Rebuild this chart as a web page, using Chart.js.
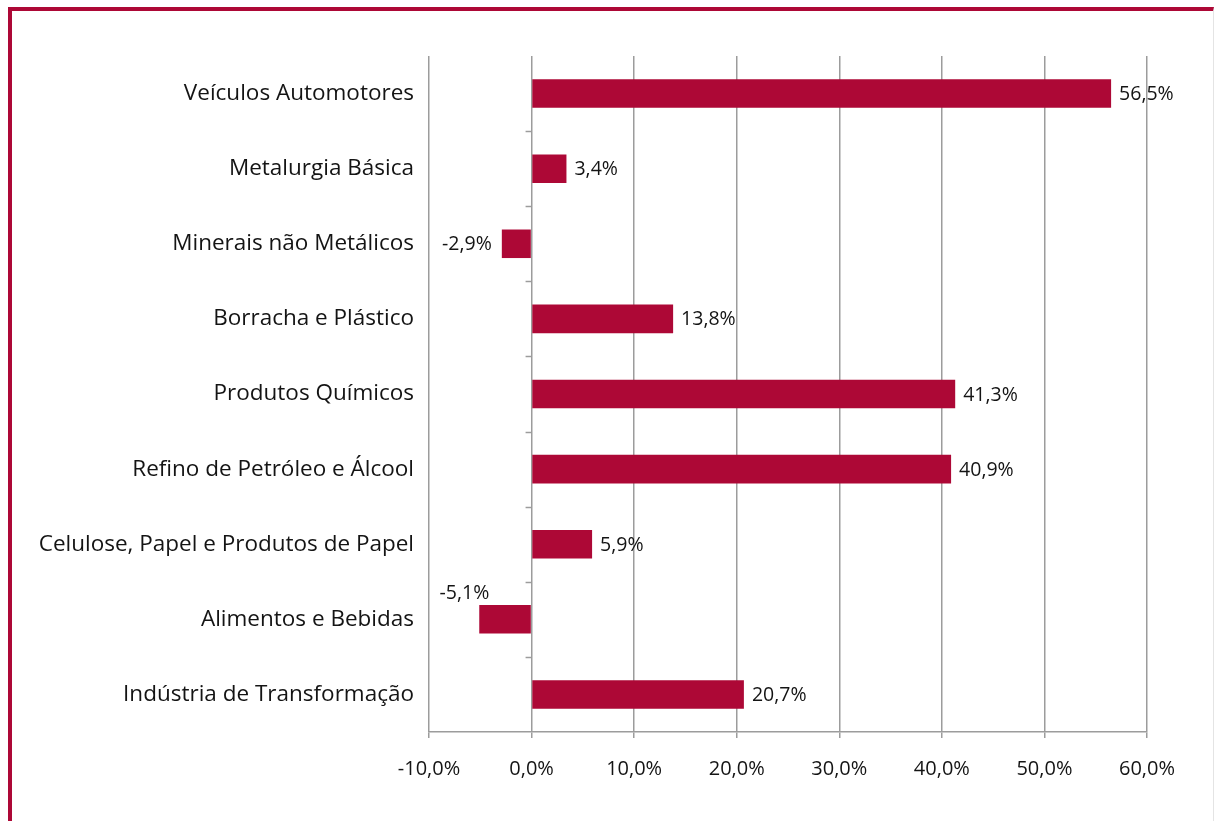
<!DOCTYPE html>
<html>
<head>
<meta charset="utf-8">
<script src="https://cdn.jsdelivr.net/npm/chart.js@4"></script>
<style>
  html, body { margin: 0; padding: 0; background: #fff; }
  #frame {
    position: absolute; left: 8px; top: 7px; right: 0; bottom: 0;
    border-top: 4px solid #ad0836; border-left: 4px solid #ad0836;
    border-right: 1px solid #e4e4e4;
  }
  #wrap { position: absolute; left: 0; top: 0; width: 1214px; height: 821px; }
</style>
</head>
<body>
<div id="frame"></div>
<div id="wrap"><canvas id="myChart" width="1214" height="821"></canvas></div>
<script>
var categories = [
    'Veículos Automotores',
    'Metalurgia Básica',
    'Minerais não Metálicos',
    'Borracha e Plástico',
    'Produtos Químicos',
    'Refino de Petróleo e Álcool',
    'Celulose, Papel e Produtos de Papel',
    'Alimentos e Bebidas',
    'Indústria de Transformação'
];
var values = [56.5, 3.4, -2.9, 13.8, 41.3, 40.9, 5.9, -5.1, 20.7];
var tickValues = [-10, 0, 10, 20, 30, 40, 50, 60];

// where each value label sits: beside the bar end, or lifted above it
var labelSpots = ['end', 'end', 'end', 'end', 'end', 'end', 'end', 'above', 'end'];

var red = '#ad0836';
var gridGray = '#9c9c9c';
var textColor = '#141414';
var font = '"Open Sans", sans-serif';

function pct(v) {
    return v.toFixed(1).replace('.', ',') + '%';
}

// category axis drawn at zero, with short marks between the categories
var zeroAxis = {
    id: 'zeroAxis',
    afterDatasetsDraw: function (chart) {
        var c = chart.ctx, x = chart.scales.x, y = chart.scales.y;
        var x0 = x.getPixelForValue(0);
        var step = (y.bottom - y.top) / categories.length;
        c.save();
        c.strokeStyle = gridGray;
        c.lineWidth = 1.5;
        for (var i = 1; i < categories.length; i++) {
            var yy = Math.round(y.top + step * i) + 0.5;
            c.beginPath();
            c.moveTo(x0 - 6, yy);
            c.lineTo(x0, yy);
            c.stroke();
        }
        c.restore();
    }
};

var valueLabels = {
    id: 'valueLabels',
    afterDatasetsDraw: function (chart) {
        var c = chart.ctx;
        var meta = chart.getDatasetMeta(0);
        c.save();
        c.font = '19.5px ' + font;
        c.fillStyle = textColor;
        meta.data.forEach(function (bar, i) {
            var v = values[i];
            var txt = pct(v);
            if (labelSpots[i] === 'above') {
                c.textAlign = 'right';
                c.textBaseline = 'bottom';
                c.fillText(txt, bar.x + 10, bar.y - bar.height / 2 - 2);
            } else if (v >= 0) {
                c.textAlign = 'left';
                c.textBaseline = 'middle';
                c.fillText(txt, bar.x + 8, bar.y + 1);
            } else {
                c.textAlign = 'right';
                c.textBaseline = 'middle';
                c.fillText(txt, bar.x - 10, bar.y + 1);
            }
        });
        c.restore();
    }
};

var ctx = document.getElementById('myChart').getContext('2d');
var myChart = new Chart(ctx, {
    type: 'bar',
    data: {
        labels: categories,
        datasets: [{
            data: values,
            backgroundColor: red,
            borderWidth: 0,
            barPercentage: 0.38,
            categoryPercentage: 1
        }]
    },
    options: {
        indexAxis: 'y',
        responsive: false,
        animation: false,
        layout: { padding: { top: 56, right: 67, left: 0, bottom: 0 } },
        plugins: { legend: { display: false }, tooltip: { enabled: false } },
        scales: {
            x: {
                min: -10,
                max: 60,
                afterBuildTicks: function (scale) {
                    scale.ticks = tickValues.map(function (v) { return { value: v }; });
                },
                afterFit: function (scale) { scale.height = 89; },
                grid: {
                    color: gridGray,
                    lineWidth: 1.5,
                    tickLength: 6,
                    drawTicks: true
                },
                border: { color: gridGray, width: 1.5 },
                ticks: {
                    padding: 19,
                    color: textColor,
                    font: { family: font, size: 20 },
                    callback: function (v) { return pct(v); }
                }
            },
            y: {
                afterFit: function (scale) { scale.width = 429; },
                grid: { display: false, drawTicks: false },
                border: { display: false },
                ticks: {
                    padding: 15,
                    color: textColor,
                    font: { family: font, size: 22.5 }
                }
            }
        }
    },
    plugins: [zeroAxis, valueLabels]
});
</script>
</body>
</html>
